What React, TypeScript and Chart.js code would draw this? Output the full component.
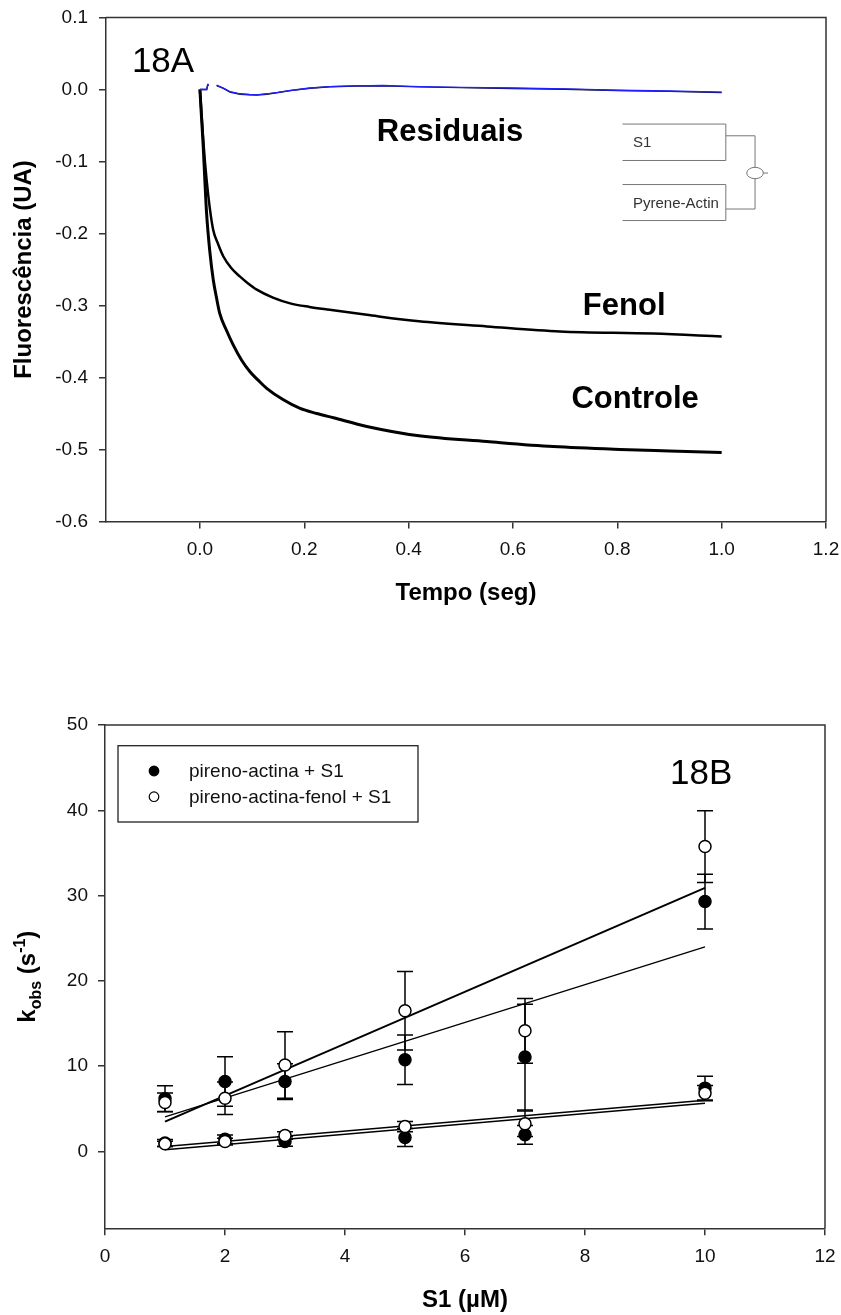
import React, { useEffect, useRef } from 'react';
import { Chart, registerables } from 'chart.js';

Chart.register(...registerables);

const FONT = '"Liberation Sans", Arial, Helvetica, sans-serif';
const AXIS_COLOR = '#333333';

// ---------------- Figure 18A ----------------
const tempoControle = [0, 0.0032, 0.0064, 0.0096, 0.0128, 0.019, 0.0255, 0.032, 0.038, 0.05, 0.064, 0.08, 0.096, 0.112, 0.128, 0.16, 0.192, 0.224, 0.256, 0.32, 0.42, 0.55, 0.677, 0.805, 0.9, 1.0];
const fluorControle = [0, -0.04, -0.08, -0.128, -0.172, -0.225, -0.264, -0.29, -0.311, -0.333, -0.355, -0.376, -0.392, -0.404, -0.415, -0.431, -0.443, -0.45, -0.456, -0.468, -0.481, -0.489, -0.496, -0.5, -0.502, -0.504];

const tempoFenol = [0, 0.0032, 0.0064, 0.0096, 0.0128, 0.019, 0.0255, 0.035, 0.045, 0.06, 0.077, 0.09, 0.109, 0.14, 0.173, 0.21, 0.249, 0.32, 0.42, 0.55, 0.69, 0.869, 1.0];
const fluorFenol = [0, -0.035, -0.07, -0.1, -0.125, -0.165, -0.195, -0.215, -0.232, -0.248, -0.26, -0.268, -0.278, -0.289, -0.297, -0.302, -0.306, -0.313, -0.322, -0.329, -0.336, -0.339, -0.343];

const tempoResiduais = [0, 0.013, 0.015, 0.017, 0.024, 0.032, 0.045, 0.0575, 0.077, 0.095, 0.109, 0.128, 0.15, 0.173, 0.211, 0.249, 0.3, 0.35, 0.42, 0.5, 0.6, 0.7, 0.8, 0.9, 1.0];
const residuaisAzul = [0, 0, 0.007, 0.007, null, 0.006, 0.002, -0.003, -0.006, -0.007, -0.0074, -0.006, -0.004, -0.0014, 0.002, 0.004, 0.005, 0.0055, 0.004, 0.003, 0.002, 0.0008, -0.001, -0.002, -0.0037];
const residuaisPreto = [0, 0, 0.006, 0.006, null, 0.0055, 0.0015, -0.0035, -0.0065, -0.0072, -0.0076, -0.0065, -0.0042, -0.0016, 0.0018, 0.0038, 0.0048, 0.005, 0.0036, 0.0026, 0.0014, 0.0004, -0.0014, -0.0026, -0.0042];

const ticksTempo = [0, 0.2, 0.4, 0.6, 0.8, 1.0, 1.2];
const ticksFluor = [-0.6, -0.5, -0.4, -0.3, -0.2, -0.1, 0.0, 0.1];

// ---------------- Figure 18B ----------------
const concS1 = [1, 2, 3, 5, 7, 10];
const kRapidaActina = [6.2, 8.2, 8.2, 10.75, 11.07, 29.3];
const errRapidaActina = [1.5, 2.9, 2.1, 2.9, 6.2, 3.2];
const kRapidaFenol = [5.75, 6.25, 10.15, 16.5, 14.15, 35.75];
const errRapidaFenol = [1.1, 1.9, 3.9, 4.6, 3.8, 4.2];
const kLentaActina = [1.0, 1.45, 1.17, 1.64, 1.96, 7.43];
const errLentaActina = [0.4, 0.5, 0.55, 1.05, 1.1, 1.4];
const kLentaFenol = [0.9, 1.17, 1.88, 2.93, 3.25, 6.84];
const errLentaFenol = [0.3, 0.4, 0.45, 0.6, 1.5, 0.9];

const fitS1 = [1, 10];
const fitRapidaFenol = [3.5, 30.9];
const fitRapidaActina = [4.05, 24.0];
const fitLentaFenol = [0.6, 6.0];
const fitLentaActina = [0.2, 5.65];

const ticksS1 = [0, 2, 4, 6, 8, 10, 12];
const ticksKobs = [0, 10, 20, 30, 40, 50];
const legendActina = 'pireno-actina + S1';
const legendFenol = 'pireno-actina-fenol + S1';

const xy = (xs: number[], ys: (number | null)[]) => xs.map((x, i) => ({ x, y: ys[i] }));

Chart.defaults.font.family = FONT;

const noLabelPadding = (s: any) => {
  s.paddingTop = 0;
  s.paddingBottom = 0;
  s.paddingLeft = 0;
  s.paddingRight = 0;
};

const framePlugin = {
  id: 'frame',
  afterDraw(chart: any) {
    const { ctx, chartArea: a } = chart;
    ctx.save();
    ctx.strokeStyle = AXIS_COLOR;
    ctx.lineWidth = 1.5;
    ctx.beginPath();
    ctx.moveTo(a.left, a.top);
    ctx.lineTo(a.right, a.top);
    ctx.lineTo(a.right, a.bottom);
    ctx.stroke();
    ctx.restore();
  },
};

const annotationsA = [
  { text: '18A', x: -0.1304, y: 0.025, font: `normal 35px ${FONT}` },
  { text: 'Residuais', x: 0.339, y: -0.0722, font: `bold 31px ${FONT}` },
  { text: 'Fenol', x: 0.734, y: -0.313, font: `bold 31px ${FONT}` },
  { text: 'Controle', x: 0.712, y: -0.4425, font: `bold 31px ${FONT}` },
];

const textPluginA = {
  id: 'textA',
  afterDraw(chart: any) {
    const { ctx, scales } = chart;
    ctx.save();
    ctx.fillStyle = '#000';
    ctx.textAlign = 'left';
    ctx.textBaseline = 'alphabetic';
    annotationsA.forEach((a) => {
      ctx.font = a.font;
      ctx.fillText(a.text, scales.x.getPixelForValue(a.x), scales.y.getPixelForValue(a.y));
    });
    ctx.restore();
  },
};

const insetBoxes = [
  { label: 'S1', x0: 0.81, x1: 1.008, yTop: -0.048, yBot: -0.0986, yLink: -0.0643 },
  { label: 'Pyrene-Actin', x0: 0.81, x1: 1.008, yTop: -0.132, yBot: -0.182, yLink: -0.166 },
];
const insetJoinX = 1.064;
const insetTailX = 1.089;
const insetCircleY = -0.116;

const insetPlugin = {
  id: 'inset',
  afterDraw(chart: any) {
    const { ctx, scales } = chart;
    const px = (v: number) => scales.x.getPixelForValue(v);
    const py = (v: number) => scales.y.getPixelForValue(v);
    ctx.save();
    ctx.strokeStyle = '#777';
    ctx.lineWidth = 1;
    const jx = px(insetJoinX);
    const cy = py(insetCircleY);
    const rx = 8.3, ry = 5.7;
    insetBoxes.forEach((b) => {
      const l = px(b.x0), r = px(b.x1), t = py(b.yTop), bt = py(b.yBot);
      ctx.beginPath();
      ctx.moveTo(l, t);
      ctx.lineTo(r, t);
      ctx.lineTo(r, bt);
      ctx.lineTo(l, bt);
      ctx.stroke();
      const ly = py(b.yLink);
      ctx.beginPath();
      ctx.moveTo(r, ly);
      ctx.lineTo(jx, ly);
      ctx.lineTo(jx, ly < cy ? cy - ry : cy + ry);
      ctx.stroke();
      ctx.fillStyle = '#333';
      ctx.font = `15px ${FONT}`;
      ctx.textBaseline = 'middle';
      ctx.textAlign = 'left';
      ctx.fillText(b.label, px(0.83), (t + bt) / 2 + 1);
    });
    ctx.beginPath();
    ctx.ellipse(jx, cy, rx, ry, 0, 0, Math.PI * 2);
    ctx.stroke();
    ctx.beginPath();
    ctx.moveTo(jx + rx, cy);
    ctx.lineTo(px(insetTailX), cy);
    ctx.stroke();
    ctx.restore();
  },
};

const errorBarPlugin = {
  id: 'errorBars',
  beforeDatasetsDraw(chart: any) {
    const { ctx } = chart;
    const yScale = chart.scales.y;
    ctx.save();
    ctx.strokeStyle = '#000';
    ctx.lineWidth = 1.5;
    chart.data.datasets.forEach((ds: any, i: number) => {
      if (!ds.errors) return;
      const meta = chart.getDatasetMeta(i);
      meta.data.forEach((pt: any, j: number) => {
        const v = ds.data[j].y;
        const e = ds.errors[j];
        const yt = yScale.getPixelForValue(v + e);
        const yb = yScale.getPixelForValue(v - e);
        const x = pt.x;
        ctx.beginPath();
        ctx.moveTo(x, yt);
        ctx.lineTo(x, yb);
        ctx.moveTo(x - 8, yt);
        ctx.lineTo(x + 8, yt);
        ctx.moveTo(x - 8, yb);
        ctx.lineTo(x + 8, yb);
        ctx.stroke();
      });
    });
    ctx.restore();
  },
};

const legendPluginB = {
  id: 'legendB',
  afterDraw(chart: any) {
    const { ctx, chartArea: a } = chart;
    const left = a.left + 13, top = a.top + 20.7, w = 300, h = 76.3;
    ctx.save();
    ctx.fillStyle = '#fff';
    ctx.fillRect(left, top, w, h);
    ctx.strokeStyle = '#222';
    ctx.lineWidth = 1.3;
    ctx.strokeRect(left, top, w, h);
    const entries = [
      { text: legendActina, fill: '#000', y: a.top + 46 },
      { text: legendFenol, fill: '#fff', y: a.top + 71.7 },
    ];
    entries.forEach((en) => {
      ctx.beginPath();
      ctx.arc(a.left + 49, en.y, 4.8, 0, Math.PI * 2);
      ctx.fillStyle = en.fill;
      ctx.fill();
      ctx.strokeStyle = '#000';
      ctx.lineWidth = 1.2;
      ctx.stroke();
      ctx.fillStyle = '#111';
      ctx.font = `19px ${FONT}`;
      ctx.textAlign = 'left';
      ctx.textBaseline = 'middle';
      ctx.fillText(en.text, a.left + 84, en.y + 1);
    });
    ctx.restore();
  },
};

const textPluginB = {
  id: 'textB',
  afterDraw(chart: any) {
    const { ctx, chartArea: a, scales } = chart;
    ctx.save();
    ctx.fillStyle = '#000';
    ctx.font = `normal 35px ${FONT}`;
    ctx.textAlign = 'left';
    ctx.textBaseline = 'alphabetic';
    ctx.fillText('18B', scales.x.getPixelForValue(9.417), scales.y.getPixelForValue(43.1));

    // y-axis title k_obs (s^-1)
    const big = `bold 24px ${FONT}`;
    const small = `bold 16px ${FONT}`;
    const parts = [
      { t: 'k', f: big, dy: 0 },
      { t: 'obs', f: small, dy: 6 },
      { t: ' (s', f: big, dy: 0 },
      { t: '-1', f: small, dy: -10 },
      { t: ')', f: big, dy: 0 },
    ];
    let total = 0;
    const widths = parts.map((p) => {
      ctx.font = p.f;
      const w = ctx.measureText(p.t).width;
      total += w;
      return w;
    });
    ctx.translate(a.left - 70, (a.top + a.bottom) / 2);
    ctx.rotate(-Math.PI / 2);
    let x = -total / 2;
    parts.forEach((p, i) => {
      ctx.font = p.f;
      ctx.fillText(p.t, x, p.dy);
      x += widths[i];
    });
    ctx.restore();
  },
};

const tickFont = { family: FONT, size: 19 };
const titleFont = { family: FONT, size: 24, weight: 'bold' as const };
const gridCfg = { display: true, drawOnChartArea: false, drawTicks: true, tickLength: 7, color: AXIS_COLOR, lineWidth: 1.5 };
const borderCfg = { display: true, color: AXIS_COLOR, width: 1.5 };

function ChartA() {
  const ref = useRef<HTMLCanvasElement>(null);
  useEffect(() => {
    const chart = new Chart(ref.current as HTMLCanvasElement, {
      type: 'line',
      data: {
        datasets: [
          { label: 'Residuais', data: xy(tempoResiduais, residuaisAzul), borderColor: '#1f1fff', borderWidth: 1.4, pointRadius: 0, spanGaps: false },
          { label: 'Residuais (preto)', data: xy(tempoResiduais, residuaisPreto), borderColor: '#111', borderWidth: 1.4, pointRadius: 0, spanGaps: false },
          { label: 'Fenol', data: xy(tempoFenol, fluorFenol), borderColor: '#000', borderWidth: 2.5, pointRadius: 0, cubicInterpolationMode: 'monotone' },
          { label: 'Controle', data: xy(tempoControle, fluorControle), borderColor: '#000', borderWidth: 3, pointRadius: 0, cubicInterpolationMode: 'monotone' },
        ] as any,
      },
      options: {
        animation: false,
        responsive: false,
        maintainAspectRatio: false,
        layout: { padding: { left: 0, right: 15, top: 17.5, bottom: 0 } },
        plugins: { legend: { display: false }, tooltip: { enabled: false } },
        scales: {
          x: {
            type: 'linear',
            min: -0.18,
            max: 1.2,
            afterBuildTicks: (s: any) => { s.ticks = ticksTempo.map((v) => ({ value: v })); },
            afterFit: (s: any) => { s.height = 128.5; noLabelPadding(s); },
            ticks: { font: tickFont, color: '#111', padding: 10, maxRotation: 0, autoSkip: false, callback: (v: any) => Number(v).toFixed(1) },
            grid: gridCfg,
            border: borderCfg,
            title: { display: true, text: 'Tempo (seg)', font: titleFont, color: '#000', padding: { top: 0, bottom: 42 } },
          },
          y: {
            type: 'linear',
            min: -0.6,
            max: 0.1,
            afterBuildTicks: (s: any) => { s.ticks = ticksFluor.map((v) => ({ value: v })); },
            afterFit: (s: any) => { s.width = 106; noLabelPadding(s); },
            ticks: { font: tickFont, color: '#111', padding: 11, autoSkip: false, callback: (v: any) => Number(v).toFixed(1) },
            grid: gridCfg,
            border: borderCfg,
            title: { display: true, text: 'Fluorescência (UA)', font: titleFont, color: '#000', padding: { top: 9.5, bottom: 0 } },
          },
        },
      } as any,
      plugins: [framePlugin, textPluginA, insetPlugin],
    });
    return () => chart.destroy();
  }, []);
  return <canvas ref={ref} width={841} height={650} style={{ display: 'block', width: 841, height: 650 }} />;
}

function ChartB() {
  const ref = useRef<HTMLCanvasElement>(null);
  useEffect(() => {
    const pointStyle = (fill: string) => ({
      showLine: false,
      pointStyle: 'circle',
      pointRadius: 6,
      pointBackgroundColor: fill,
      pointBorderColor: '#000',
      pointBorderWidth: 1.5,
      backgroundColor: fill,
      borderColor: '#000',
    });
    const lineStyle = (w: number) => ({ borderColor: '#000', borderWidth: w, pointRadius: 0, showLine: true });
    const chart = new Chart(ref.current as HTMLCanvasElement, {
      type: 'line',
      data: {
        datasets: [
          { label: legendFenol, data: xy(concS1, kRapidaFenol), errors: errRapidaFenol, ...pointStyle('#fff') },
          { label: legendFenol + ' (lenta)', data: xy(concS1, kLentaFenol), errors: errLentaFenol, ...pointStyle('#fff') },
          { label: legendActina, data: xy(concS1, kRapidaActina), errors: errRapidaActina, ...pointStyle('#000') },
          { label: legendActina + ' (lenta)', data: xy(concS1, kLentaActina), errors: errLentaActina, ...pointStyle('#000') },
          { label: 'ajuste fenol rápida', data: xy(fitS1, fitRapidaFenol), ...lineStyle(2) },
          { label: 'ajuste actina rápida', data: xy(fitS1, fitRapidaActina), ...lineStyle(1.3) },
          { label: 'ajuste fenol lenta', data: xy(fitS1, fitLentaFenol), ...lineStyle(1.5) },
          { label: 'ajuste actina lenta', data: xy(fitS1, fitLentaActina), ...lineStyle(1.5) },
        ] as any,
      },
      options: {
        animation: false,
        responsive: false,
        maintainAspectRatio: false,
        layout: { padding: { left: 0, right: 16, top: 75, bottom: 0 } },
        plugins: { legend: { display: false }, tooltip: { enabled: false } },
        scales: {
          x: {
            type: 'linear',
            min: 0,
            max: 12,
            afterBuildTicks: (s: any) => { s.ticks = ticksS1.map((v) => ({ value: v })); },
            afterFit: (s: any) => { s.height = 86.7; noLabelPadding(s); },
            ticks: { font: tickFont, color: '#111', padding: 10.3, maxRotation: 0, autoSkip: false, callback: (v: any) => String(v) },
            grid: gridCfg,
            border: borderCfg,
            title: { display: true, text: 'S1 (µM)', font: titleFont, color: '#000', padding: { top: 0, bottom: 0 } },
          },
          y: {
            type: 'linear',
            min: -9,
            max: 50,
            afterBuildTicks: (s: any) => { s.ticks = ticksKobs.map((v) => ({ value: v })); },
            afterFit: (s: any) => { s.width = 105; noLabelPadding(s); },
            ticks: { font: tickFont, color: '#111', padding: 10, autoSkip: false, callback: (v: any) => String(v) },
            grid: gridCfg,
            border: borderCfg,
          },
        },
      } as any,
      plugins: [framePlugin, errorBarPlugin, legendPluginB, textPluginB],
    });
    return () => chart.destroy();
  }, []);
  return <canvas ref={ref} width={841} height={665} style={{ display: 'block', width: 841, height: 665 }} />;
}

export default function App() {
  return (
    <div style={{ position: 'absolute', left: 0, top: 0, width: 841, height: 1315, overflow: 'hidden', background: '#fff' }}>
      <ChartA />
      <ChartB />
    </div>
  );
}
